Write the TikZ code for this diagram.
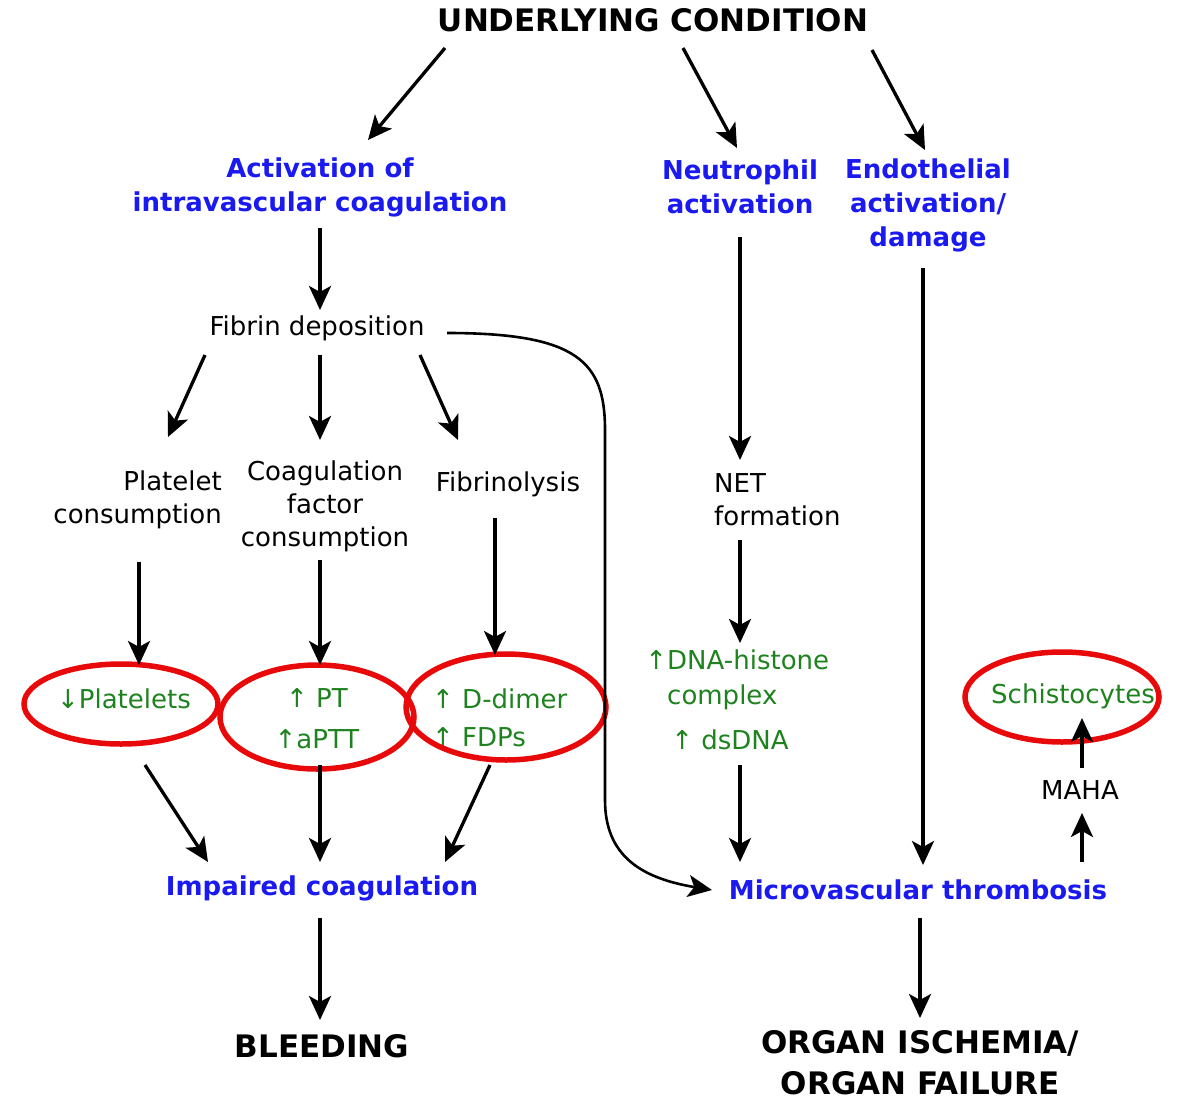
\documentclass[tikz,border=0pt]{standalone}
\usepackage{fontspec}
\setmainfont{DejaVu Sans}
\usepackage{tikz}
\usetikzlibrary{arrows.meta, calc}

\definecolor{causeblue}{RGB}{25,25,240}
\definecolor{signgreen}{RGB}{30,130,30}
\definecolor{ringred}{RGB}{232,10,10}

\begin{document}
\begin{tikzpicture}[
        x=1pt, y=-1pt,
        hdr/.style={inner sep=0pt, align=center, font=\fontsize{31}{41}\selectfont\bfseries},
        cause/.style={inner sep=0pt, align=center, text=causeblue, font=\fontsize{26}{34}\selectfont\bfseries},
        txt/.style={inner sep=0pt, align=center, font=\fontsize{26}{33}\selectfont},
        sign/.style={inner sep=0pt, align=center, text=signgreen, font=\fontsize{26}{38}\selectfont},
        ring/.style={draw=ringred, line width=5.5pt},
        arr/.style={-{Stealth[length=24pt, width=22pt, inset=6pt]}, line width=3.3pt}
    ]
    \useasboundingbox (0,0) rectangle (1186,1103);

    \node[hdr] (top) at (653,20) {UNDERLYING CONDITION};
    \node[cause] (act) at (320,187) {Activation of\\intravascular coagulation};
    \node[cause] (neu) at (740,187) {Neutrophil\\activation};
    \node[cause] (endo) at (928,205) {Endothelial\\activation/\\damage};

    \node[txt] (fib) at (317,328) {Fibrin deposition};
    \node[txt, anchor=east, align=right] (plc) at (222,500) {Platelet\\consumption};
    \node[txt] (cfc) at (325,506) {Coagulation\\factor\\consumption};
    \node[txt] (fly) at (508,484) {Fibrinolysis};
    \node[txt, anchor=west, align=left] (net) at (714,500) {NET\\formation};

    \node[sign] (plt) at (124,699) {↓Platelets};
    \node[sign, font=\fontsize{26}{41}\selectfont] (pt) at (317,719) {↑ PT\\↑aPTT};
    \node[sign, anchor=west, align=left] (ddim) at (432,718) {↑ D-dimer\\↑ FDPs};
    \node[sign, anchor=west, align=left, font=\fontsize{26}{35}\selectfont] (dna) at (667,680) {\llap{↑}DNA-histone\\complex};
    \node[sign] (dsd) at (730,740) {↑ dsDNA};
    \node[sign] (sch) at (1073,696) {Schistocytes};
    \node[txt] (maha) at (1080,790) {MAHA};

    \node[cause] (imp) at (322,888) {Impaired coagulation};
    \node[cause] (mic) at (918,890) {Microvascular thrombosis};
    \node[hdr] (bld) at (322,1046) {BLEEDING};
    \node[hdr] (org) at (920,1063) {ORGAN ISCHEMIA/\\ORGAN FAILURE};

    % lab findings
    \draw[ring] ($(plt)+(-3,5)$) ellipse [x radius=97pt, y radius=40pt];
    \draw[ring] ($(pt)+(0,-2)$) ellipse [x radius=97pt, y radius=52pt];
    \draw[ring] ($(ddim.west)+(74,-11)$) ellipse [x radius=100pt, y radius=53pt];
    \draw[ring] ($(sch)+(-11,1)$) ellipse [x radius=97pt, y radius=45pt];

    \draw[arr] ($(top)+(-208,28)$) -- ($(act)+(48,-47)$);
    \draw[arr] ($(top)+(30,28)$) -- ($(neu)+(-3,-39)$);
    \draw[arr] ($(top)+(219,30)$) -- ($(endo)+(-3,-55)$);
    \draw[arr] ($(act)+(0,41)$) -- ($(fib)+(3,-18)$);
    \draw[arr] ($(fib)+(-112,27)$) -- ($(plc.east)+(-54,-63)$);
    \draw[arr] ($(fib)+(3,27)$) -- ($(cfc)+(-5,-66)$);
    \draw[arr] ($(fib)+(103,27)$) -- ($(fly)+(-50,-44)$);
    \draw[arr, line width=2.6pt] ($(fib)+(130,5)$) .. controls (578,333) and (605,362) .. (605,430)
        -- (605,800) .. controls (605,855) and (640,878) .. ($(mic)+(-206,0)$);
    \draw[arr] ($(neu)+(0,50)$) -- ($(net.west)+(26,-40)$);
    \draw[arr] ($(endo)+(-5,63)$) -- ($(mic)+(5,-25)$);

    \draw[arr] ($(plc.east)+(-83,62)$) -- ($(plt)+(15,-34)$);
    \draw[arr] ($(cfc)+(-5,54)$) -- ($(pt)+(3,-54)$);
    \draw[arr] ($(fly)+(-13,34)$) -- ($(ddim.west)+(63,-63)$);
    \draw[arr] ($(net.west)+(26,40)$) -- ($(dna.west)+(73,-37)$);

    \draw[arr] ($(plt)+(21,66)$) -- ($(imp)+(-114,-26)$);
    \draw[arr] ($(pt)+(3,46)$) -- ($(imp)+(-2,-26)$);
    \draw[arr] ($(ddim.west)+(58,47)$) -- ($(imp)+(123,-26)$);
    \draw[arr] ($(dsd)+(10,25)$) -- ($(mic)+(-178,-28)$);
    \draw[arr] ($(mic)+(164,-28)$) -- ($(maha)+(2,23)$);
    \draw[arr] ($(maha)+(2,-22)$) -- ($(sch)+(9,22)$);

    \draw[arr] ($(imp)+(-2,30)$) -- ($(bld)+(-2,-26)$);
    \draw[arr] ($(mic)+(2,28)$) -- ($(org)+(0,-45)$);

\end{tikzpicture}
\end{document}
